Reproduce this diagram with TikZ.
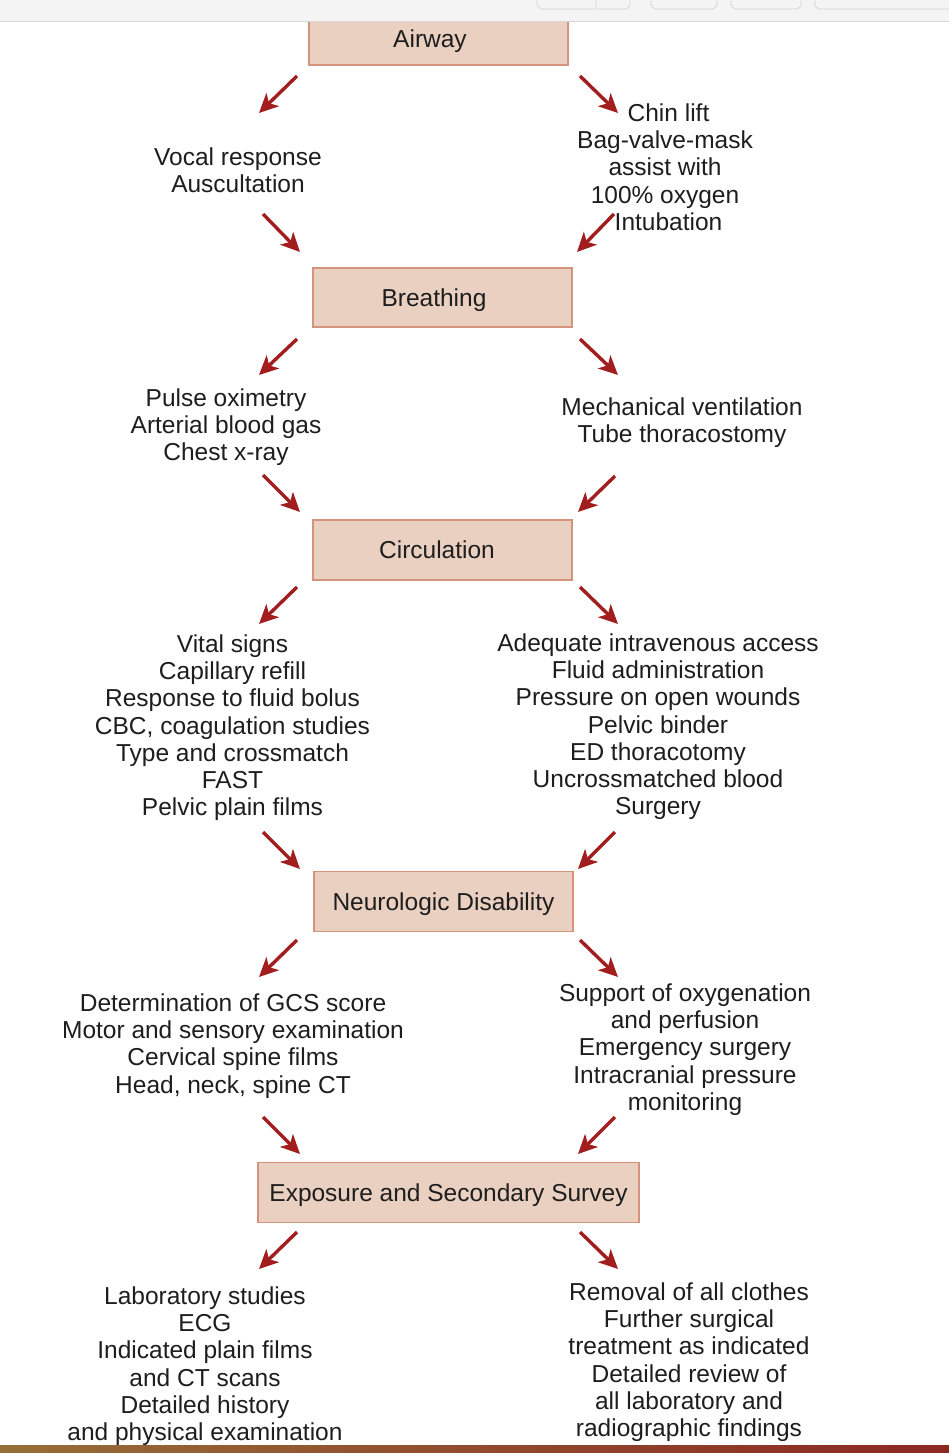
\documentclass[tikz,border=0pt]{standalone}
\usepackage{fontspec}
\setmainfont{Liberation Sans}
\usetikzlibrary{arrows.meta}
\definecolor{boxfill}{HTML}{EAD0C0}
\definecolor{boxline}{HTML}{D4937C}
\definecolor{arrred}{HTML}{A21E1E}
\definecolor{txt}{HTML}{1E1E1E}
\begin{document}
\begin{tikzpicture}[x=1pt,y=-1pt,
  box/.style={draw=boxline,line width=1.6pt,fill=boxfill,minimum height=59pt,
    text height=17.5pt,text depth=0pt,inner sep=0pt,text=txt,
    font=\fontsize{24.5}{27.2}\selectfont},
  lst/.style={align=center,anchor=north,inner sep=0pt,text=txt,
    font=\fontsize{24.5}{27.2}\selectfont},
  arr/.style={draw=arrred,line width=3.4pt,-{Stealth[length=19pt,width=18pt,inset=5pt]}}]
\useasboundingbox (0,0) rectangle (949,1453);
\fill[white] (0,0) rectangle (949,1453);

% boxes
\node[box,minimum width=259pt,minimum height=52pt] (airway) at (438.5,39) {Airway\hspace*{17pt}};
\node[box,minimum width=259pt] (breathing) at (442.5,297.5) {Breathing\hspace*{17pt}};
\node[box,minimum width=259pt,minimum height=60pt] (circulation) at (442.5,550) {Circulation\hspace*{11pt}};
\node[box,minimum width=259pt,minimum height=60pt] (neuro) at (443.5,901.5) {Neurologic Disability};
\node[box,minimum width=381pt,minimum height=60pt] (exposure) at (448.5,1192.5) {Exposure and Secondary Survey};

% text blocks
\node[lst] (vocal) at (238,147.5) {Vocal response\\Auscultation};
\node[lst] (chin) at (665,103.5) {\hspace*{7pt}Chin lift\\Bag-valve-mask\\assist with\\100\% oxygen\\\hspace*{7pt}Intubation};
\node[lst] (pulse) at (226,388.5) {Pulse oximetry\\Arterial blood gas\\Chest x-ray};
\node[lst] (mech) at (682,397.5) {Mechanical ventilation\\Tube thoracostomy};
\node[lst] (vital) at (232.5,634.5) {Vital signs\\Capillary refill\\Response to fluid bolus\\CBC, coagulation studies\\Type and crossmatch\\FAST\\Pelvic plain films};
\node[lst] (adequate) at (658,633.5) {Adequate intravenous access\\Fluid administration\\Pressure on open wounds\\Pelvic binder\\ED thoracotomy\\Uncrossmatched blood\\Surgery};
\node[lst] (gcs) at (233,993.5) {Determination of GCS score\\Motor and sensory examination\\Cervical spine films\\Head, neck, spine CT};
\node[lst] (support) at (685,983.5) {Support of oxygenation\\and perfusion\\Emergency surgery\\Intracranial pressure\\monitoring};
\node[lst] (lab) at (205,1286.5) {Laboratory studies\\ECG\\Indicated plain films\\and CT scans\\Detailed history\\and physical examination};
\node[lst] (removal) at (689,1282.5) {Removal of all clothes\\Further surgical\\treatment as indicated\\Detailed review of\\all laboratory and\\radiographic findings};

% arrow end points
\coordinate (a1s) at (297,76);   \coordinate (a1e) at (259,113);
\coordinate (a2s) at (580,76);   \coordinate (a2e) at (618,113);
\coordinate (a3s) at (263,214);  \coordinate (a3e) at (300,252);
\coordinate (a4s) at (614,214);  \coordinate (a4e) at (577,252);
\coordinate (b1s) at (297,339);  \coordinate (b1e) at (259,375);
\coordinate (b2s) at (580,339);  \coordinate (b2e) at (618,375);
\coordinate (b3s) at (263,475);  \coordinate (b3e) at (300,512);
\coordinate (b4s) at (615,476);  \coordinate (b4e) at (578,512);
\coordinate (c1s) at (297,587);  \coordinate (c1e) at (259,624);
\coordinate (c2s) at (580,587);  \coordinate (c2e) at (618,624);
\coordinate (c3s) at (263,832);  \coordinate (c3e) at (300,869);
\coordinate (c4s) at (615,832);  \coordinate (c4e) at (578,869);
\coordinate (d1s) at (297,940);  \coordinate (d1e) at (259,977);
\coordinate (d2s) at (580,940);  \coordinate (d2e) at (618,977);
\coordinate (d3s) at (263,1117); \coordinate (d3e) at (300,1154);
\coordinate (d4s) at (615,1117); \coordinate (d4e) at (578,1154);
\coordinate (e1s) at (297,1232); \coordinate (e1e) at (259,1269);
\coordinate (e2s) at (580,1232); \coordinate (e2e) at (618,1269);

\foreach \p in {a1,a2,a3,a4,b1,b2,b3,b4,c1,c2,c3,c4,d1,d2,d3,d4,e1,e2}
  \draw[arr] (\p s) -- (\p e);

% window chrome at top
\fill[fill={rgb,255:red,244;green,244;blue,244}] (0,0) rectangle (949,21);
\draw[color={rgb,255:red,214;green,214;blue,214},line width=1pt] (0,21.5) -- (949,21.5);
\draw[color={rgb,255:red,212;green,212;blue,212},line width=0.8pt,rounded corners=5pt]
  (537,-8) rectangle (630,9) (596,-8) -- (596,9)
  (651,-8) rectangle (717,9)
  (731,-8) rectangle (801,9)
  (815,-8) rectangle (960,9);
% bottom strip
\shade[left color={rgb,255:red,150;green,110;blue,55},right color={rgb,255:red,140;green,40;blue,35}] (0,1445) rectangle (949,1453);
\end{tikzpicture}
\end{document}
